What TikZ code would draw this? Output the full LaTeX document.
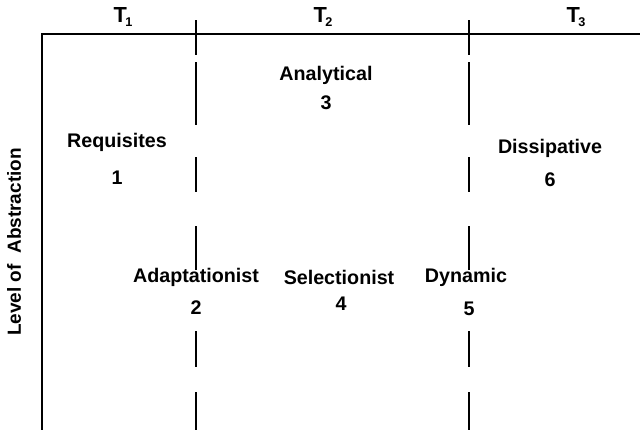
\documentclass[tikz,border=0pt]{standalone}
\usepackage{fontspec}
\setmainfont{Liberation Sans}
\newcommand{\tlab}[1]{T\kern-1.2pt\raisebox{-2.5pt}{\fontsize{9}{9}\selectfont #1}}
\tikzset{
  lbl/.style={font=\fontsize{14}{17}\selectfont\bfseries, inner sep=1pt},
  num/.style={font=\fontsize{14}{17}\selectfont\bfseries, inner sep=1pt},
  tper/.style={font=\fontsize{15.5}{17}\selectfont\bfseries, inner sep=1pt},
  axis/.style={line width=0.9pt},
  period/.style={line width=0.8pt}
}
\begin{document}
\begin{tikzpicture}[x=0.025cm, y=-0.025cm]
  \useasboundingbox (0,0) rectangle (640,430);

  % Axes
  \coordinate (origin) at (42,34);
  \coordinate (xend) at (640,34);
  \coordinate (yend) at (42,430);
  \draw[axis] (xend) -- (origin) -- (yend);

  % Period boundaries
  \foreach \px in {196,469} {
    \draw[period] (\px,20) -- (\px,55);
    \foreach \ya/\yb in {62/125,157/192,226/270,331/367,392/430}
      \draw[period] (\px,\ya) -- (\px,\yb);
  }

  % Periods
  \node[tper] (t1) at (123,17) {\tlab{1}};
  \node[tper] (t2) at (323,17) {\tlab{2}};
  \node[tper] (t3) at (576,17) {\tlab{3}};

  % Axis label
  \node[lbl, font=\fontsize{13.5}{16}\selectfont\bfseries, rotate=90] (level) at (14,242) {Level of\ \ Abstraction};

  % Stages
  \node[lbl] (req) at (117,142) {Requisites};
  \node[num] (n1) at (117,178) {1};
  \node[lbl] (adapt) at (196,277) {Adaptationist};
  \node[num] (n2) at (196,308) {2};
  \node[lbl] (anal) at (326,75) {Analytical};
  \node[num] (n3) at (326,103) {3};
  \node[lbl] (select) at (339,277) {Selectionist};
  \node[num] (n4) at (341,304) {4};
  \node[lbl] (dyn) at (466,277) {Dynamic};
  \node[num] (n5) at (469,309) {5};
  \node[lbl] (diss) at (550,148) {Dissipative};
  \node[num] (n6) at (550,180) {6};
\end{tikzpicture}
\end{document}
